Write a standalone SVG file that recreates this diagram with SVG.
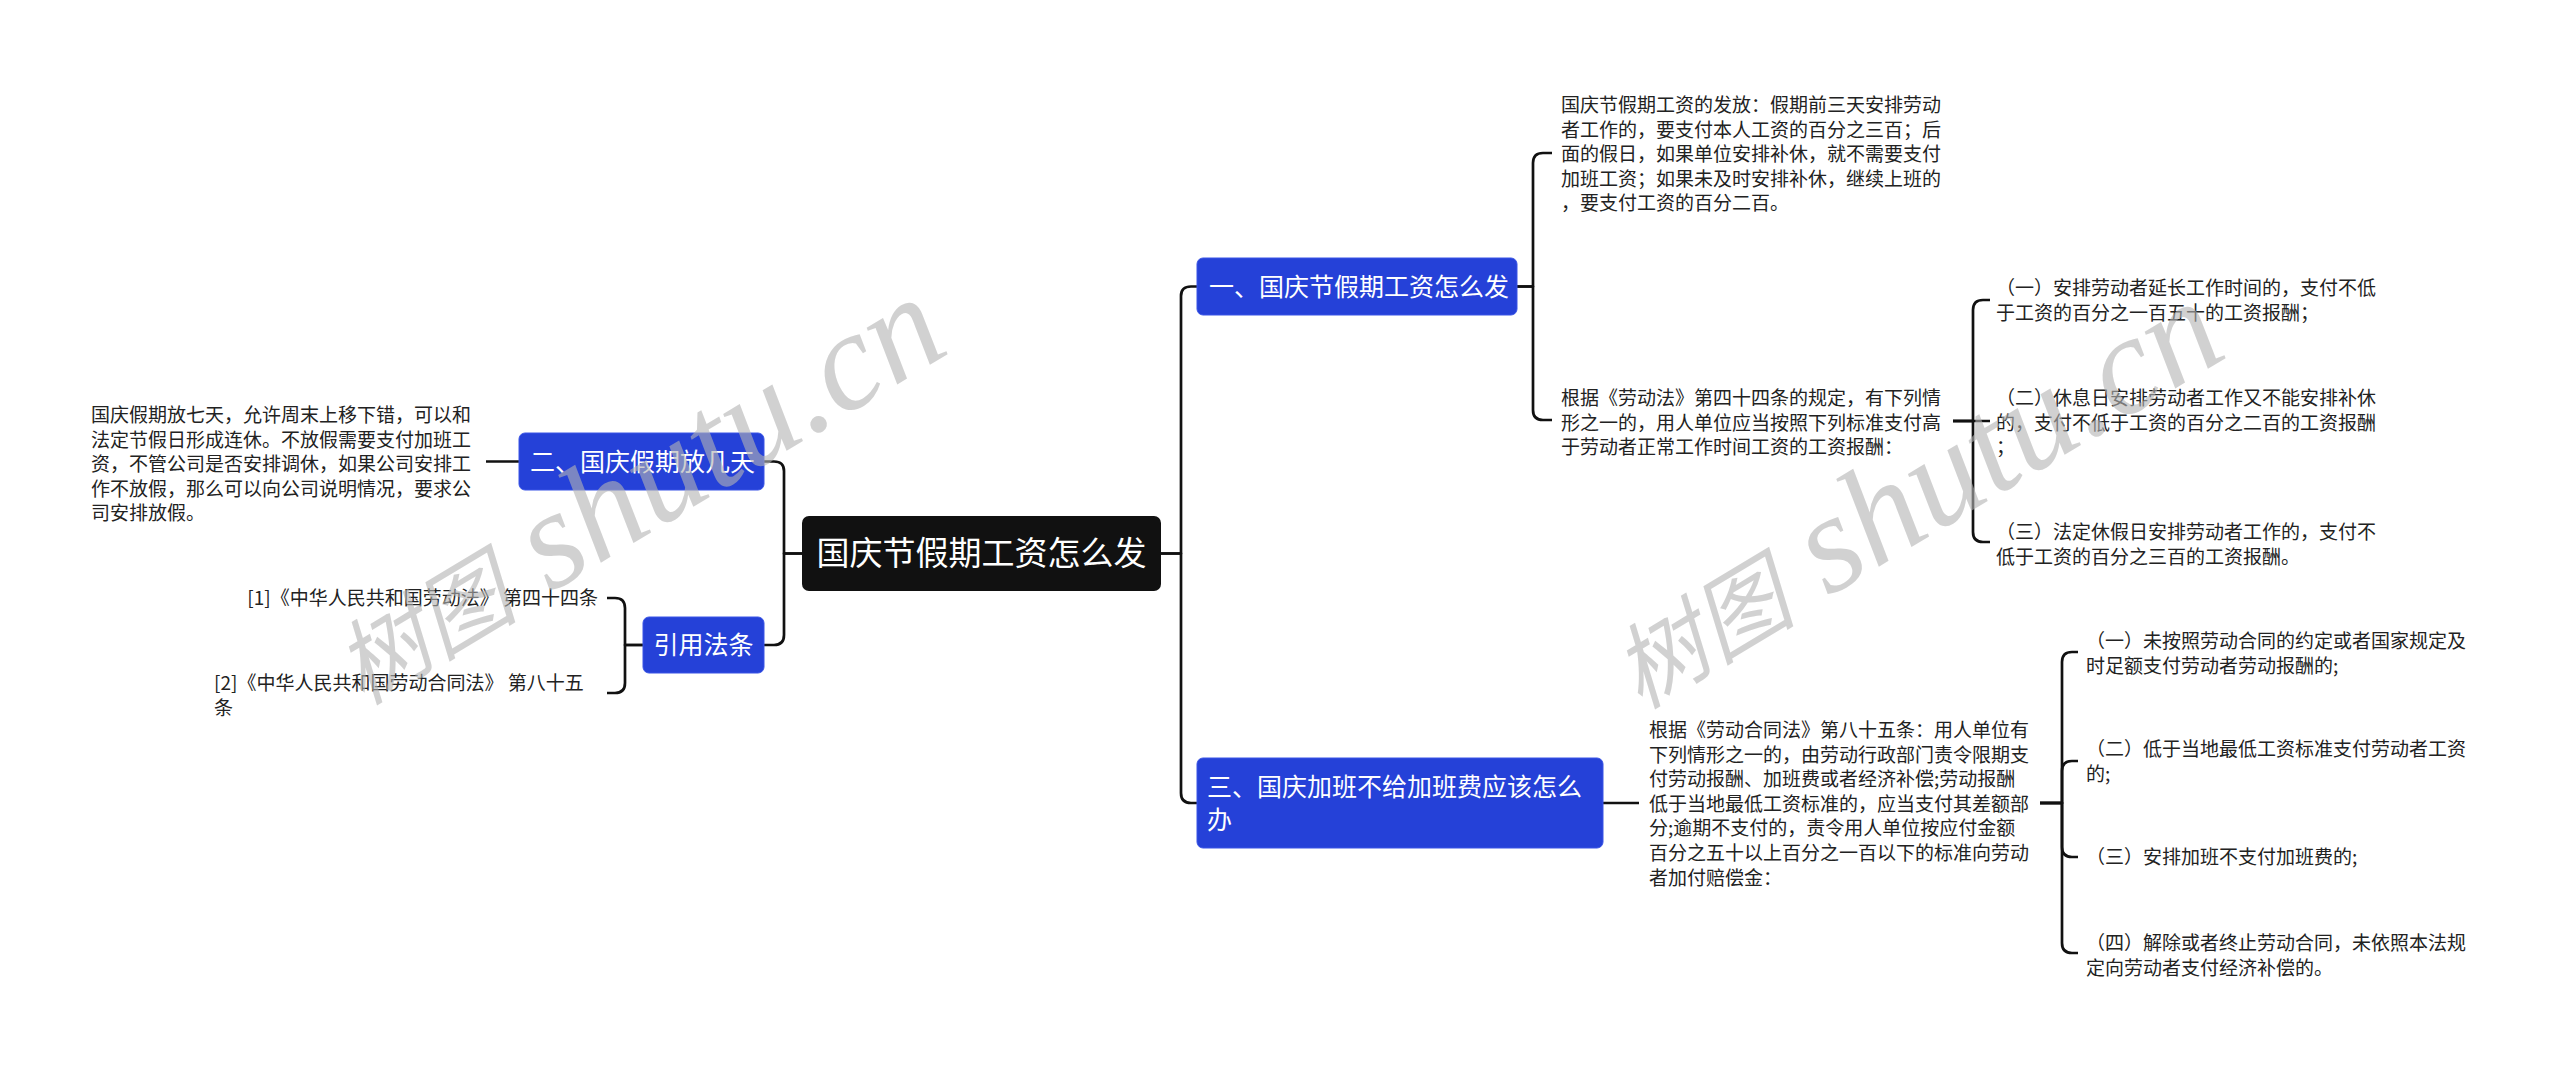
<svg xmlns="http://www.w3.org/2000/svg" width="2560" height="1071" viewBox="0 0 2560 1071">
<style>
.bg{fill:#ffffff}
.t{font-family:"Noto Sans CJK SC","Noto Sans",sans-serif;font-size:19px;fill:#222222}
.nb{fill:#2541d8;stroke:#3a55e6;stroke-width:1}
.nt{font-family:"Noto Sans CJK SC","Noto Sans",sans-serif;font-size:25px;fill:#ffffff}
.root{fill:#111111}
.rt{font-family:"Noto Sans CJK SC","Noto Sans",sans-serif;font-size:33px;fill:#ffffff}
.c{fill:none;stroke:#111111;stroke-width:2.7;stroke-linecap:butt;stroke-linejoin:round}
.wm{font-family:"Liberation Serif","Noto Sans CJK SC",serif;font-style:italic;fill:#b4b4b4;opacity:0.6}
</style>
<rect class="bg" x="0" y="0" width="2560" height="1071"/>

<g id="connectors">
  <path class="c" d="M1161,553.5 H1181 V296 Q1181,286.5 1191,286.5 H1197"/>
  <path class="c" d="M1161,553.5 H1181 V793 Q1181,803 1191,803 H1197"/>
  <path class="c" d="M802,553.5 H784 V471 Q784,461.5 774,461.5 H764"/>
  <path class="c" d="M802,553.5 H784 V635 Q784,645 774,645 H764"/>
  <path class="c" d="M519,461.5 H486"/>
  <path class="c" d="M643,645 H625 V608 Q625,598 615,598 H607"/>
  <path class="c" d="M643,645 H625 V683 Q625,693 615,693 H607"/>
  <path class="c" d="M1517,286.5 H1533 V163 Q1533,153 1543,153 H1552"/>
  <path class="c" d="M1517,286.5 H1533 V410 Q1533,420 1543,420 H1552"/>
  <path class="c" d="M1953,421 H1973 V310 Q1973,300 1983,300 H1990"/>
  <path class="c" d="M1953,421 H1990"/>
  <path class="c" d="M1953,421 H1973 V532 Q1973,542 1983,542 H1990"/>
  <path class="c" d="M1603,803 H1639"/>
  <path class="c" d="M2040,803 H2062 V662 Q2062,652 2072,652 H2078"/>
  <path class="c" d="M2040,803 H2062 V771 Q2062,761 2072,761 H2078"/>
  <path class="c" d="M2040,803 H2062 V847 Q2062,857 2072,857 H2078"/>
  <path class="c" d="M2040,803 H2062 V943 Q2062,953 2072,953 H2078"/>
</g>

<g id="root">
  <rect class="root" x="802" y="516" width="359" height="75" rx="7"/>
  <text class="rt" x="981.5" y="565" text-anchor="middle">国庆节假期工资怎么发</text>
</g>

<g id="n1">
  <rect class="nb" x="1197" y="258" width="320" height="57" rx="6"/>
  <text class="nt" x="1209" y="295.5">一、国庆节假期工资怎么发</text>
</g>

<g id="n1a">
  <text class="t" x="1561" y="112">国庆节假期工资的发放：假期前三天安排劳动</text>
  <text class="t" x="1561" y="136.5">者工作的，要支付本人工资的百分之三百；后</text>
  <text class="t" x="1561" y="161">面的假日，如果单位安排补休，就不需要支付</text>
  <text class="t" x="1561" y="185.5">加班工资；如果未及时安排补休，继续上班的</text>
  <text class="t" x="1561" y="210">，要支付工资的百分二百。</text>
</g>

<g id="n1b">
  <text class="t" x="1561" y="405">根据《劳动法》第四十四条的规定，有下列情</text>
  <text class="t" x="1561" y="429.5">形之一的，用人单位应当按照下列标准支付高</text>
  <text class="t" x="1561" y="454">于劳动者正常工作时间工资的工资报酬：</text>
</g>

<g id="n1b1">
  <text class="t" x="1996" y="295">（一）安排劳动者延长工作时间的，支付不低</text>
  <text class="t" x="1996" y="319.5">于工资的百分之一百五十的工资报酬；</text>
</g>
<g id="n1b2">
  <text class="t" x="1996" y="405">（二）休息日安排劳动者工作又不能安排补休</text>
  <text class="t" x="1996" y="429.5">的，支付不低于工资的百分之二百的工资报酬</text>
  <text class="t" x="1996" y="454">；</text>
</g>
<g id="n1b3">
  <text class="t" x="1996" y="539">（三）法定休假日安排劳动者工作的，支付不</text>
  <text class="t" x="1996" y="563.5">低于工资的百分之三百的工资报酬。</text>
</g>

<g id="n2">
  <rect class="nb" x="519" y="433" width="245" height="57" rx="6"/>
  <text class="nt" x="530" y="470.5">二、国庆假期放几天</text>
</g>
<g id="n2a">
  <text class="t" x="91" y="422">国庆假期放七天，允许周末上移下错，可以和</text>
  <text class="t" x="91" y="446.5">法定节假日形成连休。不放假需要支付加班工</text>
  <text class="t" x="91" y="471">资，不管公司是否安排调休，如果公司安排工</text>
  <text class="t" x="91" y="495.5">作不放假，那么可以向公司说明情况，要求公</text>
  <text class="t" x="91" y="520">司安排放假。</text>
</g>

<g id="n4">
  <rect class="nb" x="643" y="617" width="121" height="56" rx="6"/>
  <text class="nt" x="703.5" y="654" text-anchor="middle">引用法条</text>
</g>
<g id="n4a">
  <text class="t" x="598" y="605" text-anchor="end">[1]《中华人民共和国劳动法》 第四十四条</text>
</g>
<g id="n4b">
  <text class="t" x="214" y="690">[2]《中华人民共和国劳动合同法》 第八十五</text>
  <text class="t" x="214" y="714.5">条</text>
</g>

<g id="n3">
  <rect class="nb" x="1197" y="758" width="406" height="90" rx="6"/>
  <text class="nt" x="1207" y="796">三、国庆加班不给加班费应该怎么</text>
  <text class="nt" x="1207" y="829">办</text>
</g>
<g id="n3a">
  <text class="t" x="1649" y="737">根据《劳动合同法》第八十五条：用人单位有</text>
  <text class="t" x="1649" y="761.6">下列情形之一的，由劳动行政部门责令限期支</text>
  <text class="t" x="1649" y="786.2">付劳动报酬、加班费或者经济补偿;劳动报酬</text>
  <text class="t" x="1649" y="810.8">低于当地最低工资标准的，应当支付其差额部</text>
  <text class="t" x="1649" y="835.4">分;逾期不支付的，责令用人单位按应付金额</text>
  <text class="t" x="1649" y="860">百分之五十以上百分之一百以下的标准向劳动</text>
  <text class="t" x="1649" y="884.6">者加付赔偿金：</text>
</g>
<g id="n3a1">
  <text class="t" x="2086" y="648">（一）未按照劳动合同的约定或者国家规定及</text>
  <text class="t" x="2086" y="672.5">时足额支付劳动者劳动报酬的;</text>
</g>
<g id="n3a2">
  <text class="t" x="2086" y="756">（二）低于当地最低工资标准支付劳动者工资</text>
  <text class="t" x="2086" y="780.5">的;</text>
</g>
<g id="n3a3">
  <text class="t" x="2086" y="864">（三）安排加班不支付加班费的;</text>
</g>
<g id="n3a4">
  <text class="t" x="2086" y="950">（四）解除或者终止劳动合同，未依照本法规</text>
  <text class="t" x="2086" y="974.5">定向劳动者支付经济补偿的。</text>
</g>

<g id="watermarks">
  <text class="wm" transform="translate(362,706) rotate(-31)"><tspan font-size="92">树图</tspan><tspan font-size="140"> shutu.cn</tspan></text>
  <text class="wm" transform="translate(1640,710) rotate(-31)"><tspan font-size="92">树图</tspan><tspan font-size="140"> shutu.cn</tspan></text>
</g>
</svg>
